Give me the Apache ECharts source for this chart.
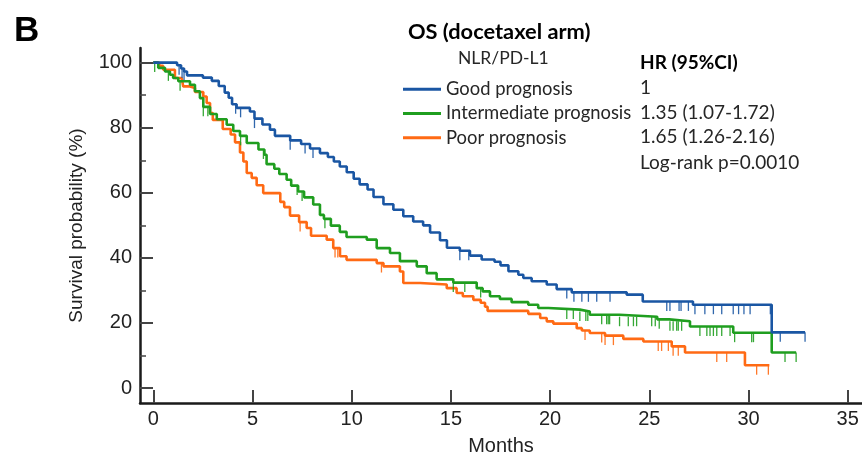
<!DOCTYPE html>
<html>
<head>
<meta charset="utf-8">
<script src="https://cdn.jsdelivr.net/npm/echarts@6/dist/echarts.min.js"></script>
<style>
  html, body { margin: 0; padding: 0; background: #ffffff; }
  #chart { width: 862px; height: 453px; }
</style>
</head>
<body>
<div id="chart"></div>
<script>
// Kaplan-Meier overall survival, docetaxel arm, by NLR/PD-L1 prognosis group
const groupNames = ['Good prognosis', 'Intermediate prognosis', 'Poor prognosis'];
const groupColors = ['#1a56a3', '#1f9e1f', '#ff6a14'];
const hrLabels = ['1', '1.35 (1.07-1.72)', '1.65 (1.26-2.16)'];
const logRankText = 'Log-rank p=0.0010';
const xTicks = [0, 5, 10, 15, 20, 25, 30, 35];
const yTicks = [0, 20, 40, 60, 80, 100];
const yMinorTicks = [10, 30, 50, 70, 90];

// [month, survival % after the step]
const goodSteps = [
  [0, 100], [1.2, 99.2], [1.4, 98.2], [1.55, 97.3], [1.7, 96.1], [2.5, 95.4], [2.95, 94.4],
  [3.3, 92.8], [3.6, 90.8], [3.8, 89.2], [3.97, 87.2], [4.2, 86.1], [4.87, 85.0],
  [5.1, 82.8], [5.5, 81.0], [5.88, 79.4], [6.13, 77.5], [6.9, 76.1], [7.45, 75.0],
  [7.9, 73.6], [8.4, 72.2], [8.8, 71.0], [9.1, 69.6], [9.4, 68.1], [9.75, 66.3],
  [10.1, 64.3], [10.4, 62.6], [10.8, 61.0], [11.1, 58.7], [11.6, 56.5], [12.1, 54.8],
  [12.6, 52.8], [13.1, 51.2], [13.6, 50.0], [13.95, 47.8], [14.45, 45.4], [14.8, 43.1],
  [15.45, 42.2], [15.96, 40.7], [16.55, 39.5], [17.2, 38.8], [17.5, 37.7], [17.9, 35.9],
  [18.4, 34.8], [18.65, 33.8], [19.07, 32.8], [19.83, 31.8], [20.33, 30.4], [21.09, 29.4],
  [23.86, 28.7], [24.67, 26.6], [27.2, 25.6], [31.17, 17.1], [32.85, 17.1]
];
const goodCensored = [
  1.3, 1.45, 1.55, 4.15, 4.4, 5.1, 6.9, 7.65, 8.05, 15.45, 15.9,
  20.84, 21.2, 21.6, 21.93, 22.35, 23.02, 25.88, 26.04, 26.5, 26.6, 26.97, 27.3,
  27.8, 28.23, 28.65, 29.23, 29.5, 29.77, 30.08, 31.1, 31.6, 32.85
];

const intermediateSteps = [
  [0, 100], [0.25, 98.4], [0.59, 97.3], [0.84, 96.3], [1.0, 95.3], [1.26, 94.3],
  [1.85, 93.2], [2.1, 91.2], [2.35, 89.1], [2.52, 86.4], [2.86, 84.2], [3.2, 82.6],
  [3.7, 80.9], [4.03, 79.0], [4.37, 77.5], [4.71, 75.3], [5.3, 73.3], [5.6, 71.7],
  [5.71, 68.8], [6.1, 67.4], [6.35, 65.8], [6.72, 64.0], [6.95, 62.2], [7.3, 60.4],
  [7.6, 58.6], [8.06, 56.4], [8.4, 53.2], [8.6, 52.0], [8.95, 49.9], [9.4, 48.0],
  [9.74, 46.4], [10.76, 45.6], [11.26, 43.0], [11.93, 41.5], [12.43, 39.0],
  [13.28, 37.4], [13.78, 35.3], [14.28, 33.4], [15.12, 32.4], [16.3, 30.7],
  [16.6, 29.7], [16.97, 28.2], [17.47, 27.4], [18.06, 26.4], [18.9, 25.6],
  [19.4, 24.6], [19.91, 24.1], [21.5, 23.5], [22.0, 22.5], [23.5, 21.9], [25.4, 21.1],
  [26.0, 20.5], [27.05, 18.9], [29.23, 17.0], [31.17, 10.9], [32.4, 10.9]
];
const intermediateCensored = [
  0.07, 0.76, 1.35, 2.52, 2.75, 4.4, 5.55, 7.25, 7.5, 8.65, 15.12, 15.7, 16.5,
  20.84, 21.17, 21.5, 21.8, 21.9, 22.6, 22.85, 22.93, 23.0, 23.5, 23.94, 24.2, 24.36,
  25.12, 25.3, 25.5, 26.04, 26.2, 26.38, 26.46, 26.63, 27.55, 27.9, 28.06, 28.23,
  28.4, 28.65, 29.07, 29.3, 30.16, 30.25, 31.84, 32.4
];

const poorSteps = [
  [0, 100], [0.3, 99.0], [0.5, 97.8], [1.09, 95.3], [1.43, 94.8], [1.51, 92.7],
  [1.85, 92.2], [2.1, 91.0], [2.52, 89.6], [2.69, 87.6], [2.86, 84.5], [3.0, 82.4],
  [3.5, 79.6], [3.9, 77.9], [4.12, 75.5], [4.37, 72.4], [4.54, 69.6], [4.71, 66.1],
  [4.96, 64.6], [5.21, 62.3], [5.54, 59.9], [6.4, 57.2], [6.6, 55.6], [6.89, 53.0],
  [7.35, 51.0], [7.73, 49.2], [7.95, 46.8], [8.74, 45.6], [9.07, 43.0], [9.41, 40.5],
  [9.74, 39.4], [11.26, 38.4], [11.6, 37.4], [12.43, 35.8], [12.6, 32.3], [13.45, 31.8],
  [14.79, 30.7], [15.29, 29.2], [15.6, 28.2], [16.13, 27.1], [16.5, 26.2], [16.72, 25.0],
  [16.85, 23.7], [18.9, 22.8], [19.5, 21.5], [19.83, 20.5], [20.16, 19.8], [21.34, 18.4],
  [21.6, 17.7], [22.0, 16.9], [22.77, 16.1], [23.69, 15.1], [24.7, 14.3], [26.13, 12.8],
  [26.8, 10.9], [29.82, 7.0], [31.05, 7.0]
];
const poorCensored = [
  7.4, 9.16, 9.3, 11.5, 21.76, 22.6, 22.77, 23.19, 25.45, 25.62, 25.96, 26.2, 26.46,
  28.4, 28.9, 30.41, 31.0
];

const stepSets = [goodSteps, intermediateSteps, poorSteps];
const censorSets = [goodCensored, intermediateCensored, poorCensored];

// survival level of a step curve at a given month
function levelAt(steps, t) {
  let s = steps[0][1];
  for (const p of steps) { if (p[0] <= t) s = p[1]; else break; }
  return s;
}

const tickFont = { fontFamily: 'Liberation Sans, Arial, sans-serif', fontSize: 20, color: '#222' };
const nameFont = { fontFamily: 'Liberation Sans, Arial, sans-serif', fontSize: 19, color: '#222' };
const legendFont = 'Lato, "Open Sans", sans-serif';

const series = [];
groupNames.forEach((name, i) => {
  series.push({
    name: name,
    type: 'line',
    step: 'end',
    data: stepSets[i],
    showSymbol: false,
    symbol: 'none',
    lineStyle: { color: groupColors[i], width: 2.6 },
    itemStyle: { color: groupColors[i] },
    animation: false,
    z: 5 - i
  });
  series.push({
    name: name + ' (censored)',
    type: 'scatter',
    data: censorSets[i].map(t => [t, levelAt(stepSets[i], t)]),
    symbol: 'rect',
    symbolSize: [1.3, 9.5],
    symbolOffset: [0, 4.7],
    itemStyle: { color: groupColors[i], opacity: 0.9 },
    animation: false,
    silent: true,
    z: 3
  });
});

function txt(x, y, text, font, fill) {
  return { type: 'text', x: x, y: y, style: { text: text, font: font, fill: fill, verticalAlign: 'middle', align: 'left' } };
}

const chart = echarts.init(document.getElementById('chart'), null, { renderer: 'canvas' });
chart.setOption({
  backgroundColor: '#ffffff',
  animation: false,
  grid: { left: 140, right: 0, top: 48, bottom: 50, containLabel: false, outerBoundsMode: 'none' },
  xAxis: {
    type: 'value',
    min: -0.67,
    max: 35.72,
    name: 'Months',
    nameLocation: 'middle',
    nameGap: 33,
    nameTextStyle: tickFont,
    axisLine: { show: true, onZero: false, lineStyle: { color: '#1a1a1a', width: 2.5 } },
    axisTick: { show: true, inside: true, length: 13, customValues: xTicks, lineStyle: { color: '#444', width: 2 } },
    axisLabel: { show: true, margin: 6, customValues: xTicks, ...tickFont },
    splitLine: { show: false }
  },
  yAxis: [{
    type: 'value',
    min: -4.6,
    max: 104.5,
    name: 'Survival probability (%)',
    nameLocation: 'middle',
    nameGap: 54,
    nameTextStyle: nameFont,
    axisLine: { show: true, onZero: false, lineStyle: { color: '#1a1a1a', width: 2.5 } },
    axisTick: { show: true, inside: true, length: 13, customValues: yTicks, lineStyle: { color: '#444', width: 2 } },
    axisLabel: { show: true, margin: 8, customValues: yTicks, ...tickFont },
    splitLine: { show: false }
  }, {
    type: 'value',
    min: -4.6,
    max: 104.5,
    position: 'left',
    axisLine: { show: false, onZero: false },
    axisTick: { show: true, inside: true, length: 6, customValues: yMinorTicks, lineStyle: { color: '#444', width: 1.5 } },
    axisLabel: { show: false },
    splitLine: { show: false }
  }],
  legend: {
    data: groupNames,
    orient: 'vertical',
    left: 403,
    top: 79.3,
    padding: 0,
    icon: 'rect',
    itemWidth: 38,
    itemHeight: 3,
    itemGap: 4.2,
    selectedMode: false,
    textStyle: { fontFamily: legendFont, fontSize: 18.4, color: '#262626', lineHeight: 20, padding: [0, 0, 0, 0] }
  },
  graphic: [
    { type: 'text', x: 14, y: 31, style: { text: 'B', font: 'bold 35px "Liberation Sans", Arial, sans-serif', fill: '#000', verticalAlign: 'middle' } },
    txt(408, 31.5, 'OS (docetaxel arm)', 'bold 21.8px ' + legendFont, '#000'),
    txt(458, 58, 'NLR/PD-L1', '17.5px ' + legendFont, '#262626'),
    txt(640, 62.5, 'HR (95%CI)', 'bold 19px ' + legendFont, '#000'),
    txt(640, 88, hrLabels[0], '19px ' + legendFont, '#262626'),
    txt(640, 113, hrLabels[1], '19px ' + legendFont, '#262626'),
    txt(640, 137, hrLabels[2], '19px ' + legendFont, '#262626'),
    txt(640, 162.5, logRankText, '19px ' + legendFont, '#262626')
  ],
  series: series
});
</script>
</body>
</html>
